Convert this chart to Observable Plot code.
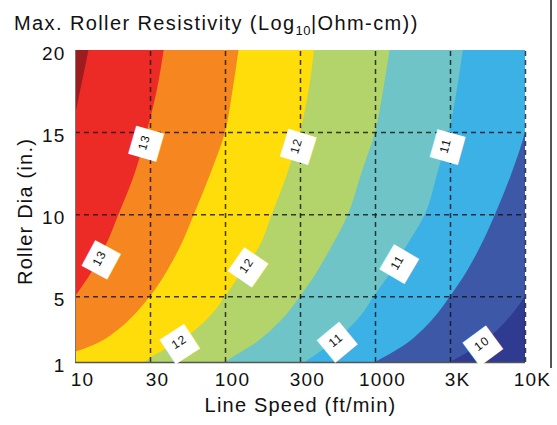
<!DOCTYPE html>
<html><head><meta charset="utf-8">
<script src="https://cdn.jsdelivr.net/npm/d3@7"></script>
<script src="https://cdn.jsdelivr.net/npm/@observablehq/plot@0.6"></script>
<style>
body{margin:0;background:#fff;}
#wrap{position:relative;width:557px;height:425px;overflow:hidden;}
#wrap svg{position:absolute;left:0;top:0;}
#title{position:absolute;left:14px;top:13px;font:20px "Liberation Sans",Arial,sans-serif;letter-spacing:1.4px;line-height:20px;white-space:nowrap;color:#111;z-index:2;}
#title .sub{font-size:13px;position:relative;top:5px;letter-spacing:0.5px;}
#edge{position:absolute;left:550px;top:0;width:2px;height:368px;background:#555;z-index:2;}
svg text{letter-spacing:1.2px;}
</style></head>
<body>
<div id="wrap"><div id="title">Max. Roller Resistivity (Log<span class="sub">10</span>|Ohm-cm))</div><div id="edge"></div></div>
<script>
// Roller diameter (in.) rows at which the contour boundaries were read
const dia = [1, 1.5, 2, 3, 4, 5, 6.5, 8, 10, 12.5, 15, 17.5, 20];
// Contour boundary levels (log10 ohm-cm), left to right
const levels = [13.5, 13, 12.5, 12, 11.5, 11, 10.5, 10];
// Line speed (ft/min) of each boundary at the rows above
const speed135 = [0.95, 1.2, 1.5, 2.0, 2.5, 3.0, 3.9, 4.8, 6.0, 7.7, 9.4, 10.8, 12.3];
const speed13  = [3.2, 4.0, 4.9, 6.6, 8.3, 10, 12.9, 15.8, 19.5, 25, 30, 35, 39];
const speed125 = [7.5, 9.3, 13, 19.5, 25.5, 31.6, 40.7, 50, 62, 80, 100, 112, 123];
const speed12  = [29, 35, 45, 64, 83, 100, 129, 168, 205, 260, 316, 360, 392];
const speed115 = [100, 122, 150, 205, 262, 316, 410, 510, 660, 810, 1000, 1130, 1250];
const speed11  = [340, 410, 490, 660, 830, 980, 1280, 1600, 2150, 2600, 3100, 3500, 3850];
const speed105 = [1000, 1260, 1550, 2090, 2630, 3160, 4070, 5010, 6310, 8130, 10000, 11200, 12300];
const speed10  = [3160, 3980, 4900, 6610, 8320, 10000, 12900, 15800, 20000, 25700, 31600, 35500, 38900];
const bandColors = ["#9e1b20", "#ed2b26", "#f6861f", "#fedd0a", "#b2d46a", "#6ec4c6", "#3bb1e6", "#3c58a7", "#2e3b91"];
// contour labels
const labelTexts  = ["13", "13", "12", "12", "12", "11", "11", "11", "10"];
const labelLevels = [13, 13, 12, 12, 12, 11, 11, 11, 10];
const labelDias   = [14.4, 7.35, 14.2, 6.9, 2.25, 14.2, 7.1, 2.36, 2.15];
// axes
const xTicks = [10, 31.62, 100, 316.2, 1000, 3162, 10000];
const xTickLabels = ["10", "30", "100", "300", "1000", "3K", "10K"];
const xGrid = [31.62, 100, 316.2, 1000, 3162, 10000];
const yTicks = [1, 5, 10, 15, 20];
const yGrid = [5, 10, 15];

const curves = [speed135, speed13, speed125, speed12, speed115, speed11, speed105, speed10];

const W = 557, H = 425, mL = 75, mR = 32, mT = 50, mB = 63;
const xDomain = [10, 10000], yDomain = [1, 20];
const xs = Plot.scale({x: {type: "log", domain: xDomain, range: [mL, W - mR]}});
const ys = Plot.scale({y: {type: "linear", domain: yDomain, range: [H - mB, mT]}});

function speedAt(curve, d) {
  for (let i = 0; i < dia.length - 1; i++) {
    if (d >= dia[i] && d <= dia[i + 1]) {
      const t = (d - dia[i]) / (dia[i + 1] - dia[i]);
      return Math.pow(10, Math.log10(curve[i]) + t * (Math.log10(curve[i + 1]) - Math.log10(curve[i])));
    }
  }
  return curve[curve.length - 1];
}

const labels = labelTexts.map((t, i) => {
  const curve = curves[levels.indexOf(labelLevels[i])];
  const d = labelDias[i];
  const d0 = Math.max(1, d - 0.5), d1 = Math.min(20, d + 0.5);
  const px0 = xs.apply(speedAt(curve, d0)), px1 = xs.apply(speedAt(curve, d1));
  const py0 = ys.apply(d0), py1 = ys.apply(d1);
  const a = Math.atan2(py1 - py0, px1 - px0) * 180 / Math.PI;
  return {t, d, s: speedAt(curve, d), a};
});

// bands painted left to right, each from its left boundary to far right
const bands = bandColors.map((c, j) => dia.map((d, i) => ({d, x1: j === 0 ? 1 : curves[j - 1][i], x2: 1e6})));

const grid = {stroke: "#111", strokeOpacity: 0.8, strokeWidth: 1.5, strokeDasharray: "5,4"};

const chart = Plot.plot({
  width: W, height: H, marginLeft: mL, marginRight: mR, marginTop: mT, marginBottom: mB,
  x: {type: "log", domain: xDomain, axis: null},
  y: {domain: yDomain, axis: null},
  style: {fontFamily: '"Liberation Sans", Arial, sans-serif', background: "white", color: "#111"},
  marks: [
    ...bands.map((rows, j) => Plot.areaX(rows, {y: "d", x1: "x1", x2: "x2", fill: bandColors[j], curve: "monotone-y", clip: true})),
    Plot.ruleX(xGrid, {x: d => d, y1: 1, y2: 20, ...grid}),
    Plot.ruleY(yGrid, {y: d => d, x1: 10, x2: 10000, ...grid}),
    Plot.ruleX([10], {stroke: "#777", strokeWidth: 1}),
    Plot.ruleY([1], {stroke: "#555", strokeWidth: 1.6}),
    Plot.text(labels, {x: "s", y: "d", text: () => "\u25A0", rotate: "a", fill: "white", fontSize: 38, fontFamily: "DejaVu Sans"}),
    Plot.text(labels, {x: "s", y: "d", text: "t", rotate: "a", fill: "#111", fontSize: 12}),
    Plot.text(xTicks, {x: d => d, text: (d, i) => xTickLabels[i], frameAnchor: "bottom", dy: 23, dx: 7, fontSize: 19}),
    Plot.text(yTicks, {y: d => d, text: d => String(d), frameAnchor: "left", textAnchor: "end", dx: -10, dy: 3, fontSize: 19}),
    Plot.text(["Line Speed (ft/min)"], {text: d => d, frameAnchor: "bottom", dy: 49, fontSize: 20}),
    Plot.text(["Roller Dia (in.)"], {text: d => d, frameAnchor: "left", textAnchor: "middle", rotate: -90, dx: -50, dy: 5, fontSize: 20})
  ]
});
document.getElementById("wrap").prepend(chart);
</script>
</body></html>
